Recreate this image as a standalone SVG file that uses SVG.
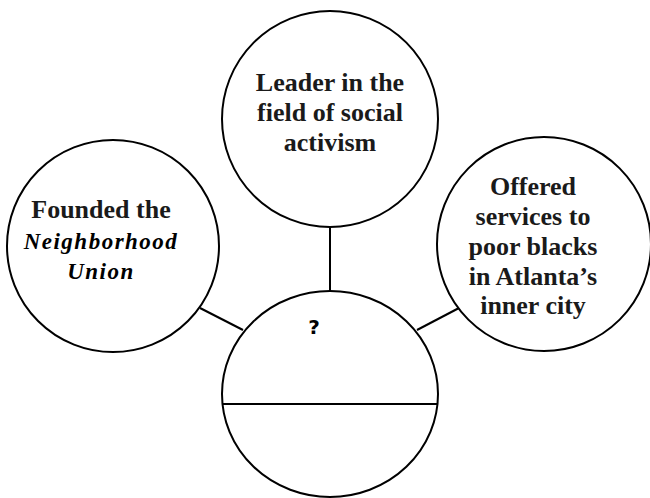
<svg xmlns="http://www.w3.org/2000/svg" width="650" height="498" viewBox="0 0 650 498">
<style>
.c{fill:#fff;stroke:#000;stroke-width:2}
.l{stroke:#000;stroke-width:2;fill:none}
.t{font-family:"Liberation Serif",serif;font-weight:bold;font-size:26px;text-anchor:middle;fill:#1a1a1a}
.i{font-family:"Liberation Serif",serif;font-style:italic;font-weight:bold;font-size:23px;letter-spacing:1.5px;text-anchor:middle;fill:#000}
.q{font-family:"DejaVu Sans",sans-serif;font-weight:bold;font-size:20px;text-anchor:middle}
</style>
<rect width="650" height="498" fill="#fff"/>
<g id="connectors">
<line class="l" x1="330" y1="227" x2="330" y2="291"/>
<line class="l" x1="200" y1="308" x2="243" y2="330"/>
<line class="l" x1="459" y1="308" x2="417" y2="330"/>
</g>
<g id="node-top">
<circle class="c" cx="330" cy="119" r="108"/>
<text class="t" x="330" y="91">Leader in the</text>
<text class="t" x="330" y="121">field of social</text>
<text class="t" x="330" y="151">activism</text>
</g>
<g id="node-left">
<circle class="c" cx="113" cy="246" r="106"/>
<text class="t" x="101" y="218">Founded the</text>
<text class="i" x="101" y="249">Neighborhood</text>
<text class="i" x="101" y="279">Union</text>
</g>
<g id="node-right">
<circle class="c" cx="544" cy="244" r="107"/>
<text class="t" x="533" y="195">Offered</text>
<text class="t" x="533" y="225">services to</text>
<text class="t" x="533" y="255">poor blacks</text>
<text class="t" x="533" y="285">in Atlanta’s</text>
<text class="t" x="533" y="314">inner city</text>
</g>
<g id="node-center">
<ellipse class="c" cx="330" cy="394" rx="108" ry="103"/>
<line class="l" x1="222" y1="404" x2="438" y2="404"/>
<text class="q" x="314" y="334">?</text>
</g>
</svg>
